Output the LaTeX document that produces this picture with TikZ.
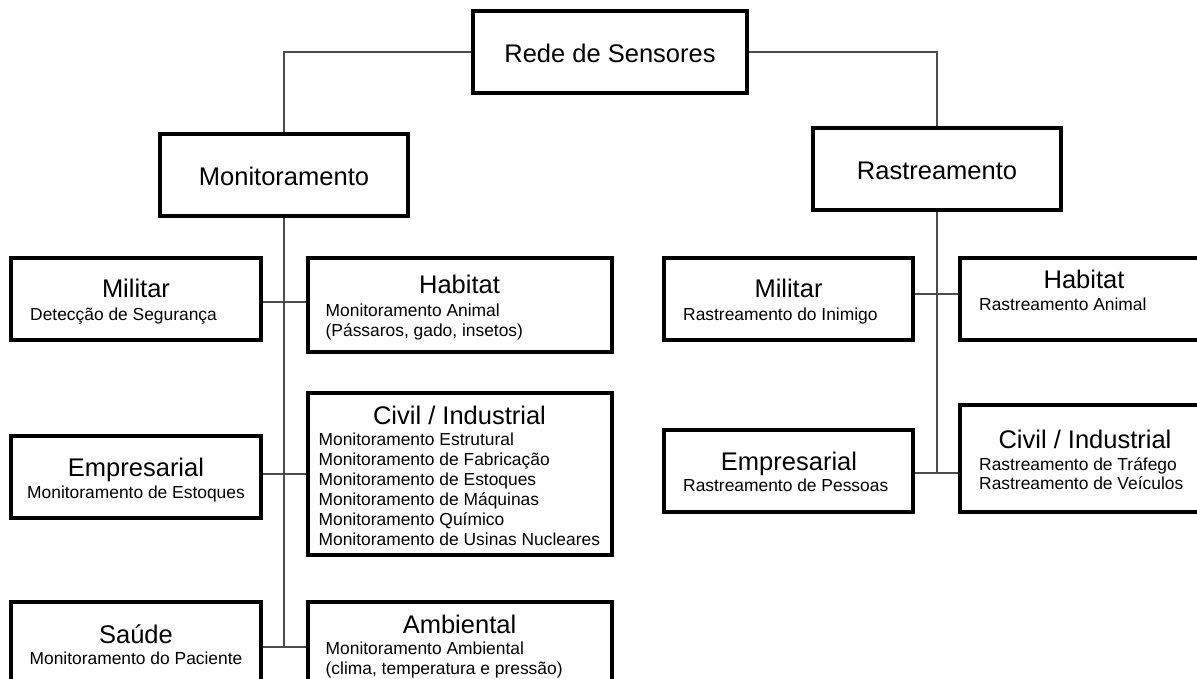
\documentclass[tikz,border=0pt]{standalone}
\usepackage{fontspec}
\setmainfont{Liberation Sans}
\tikzset{
  box/.style={draw, line width=2.8pt, rectangle, inner sep=0pt, fill=white},
  link/.style={draw=black!70, line width=1.1pt},
  ttl/.style={anchor=base, inner sep=0pt, font=\fontsize{25.5}{30}\selectfont},
  subl/.style={anchor=base west, inner sep=0pt, font=\fontsize{17.4}{20}\selectfont},
  subc/.style={anchor=base, inner sep=0pt, font=\fontsize{17.4}{20}\selectfont},
}
% box: name, centre x, centre y, width, height
\newcommand\mkbox[5]{\node[box, minimum width=#4pt, minimum height=#5pt] (#1) at (#2,#3) {};}
\begin{document}
\begin{tikzpicture}[x=1pt, y=-1pt]
\useasboundingbox (0,0) rectangle (1197,679);
\clip (0,0) rectangle (1197,679);
\fill[white] (0,0) rectangle (1197,679);

% junction points on the trunk lines
\coordinate (jl1) at (284,302);
\coordinate (jl2) at (284,474);
\coordinate (jl3) at (284,647);
\coordinate (jr1) at (937,294);
\coordinate (jr2) at (937,473);

% boxes
\mkbox{rede}{610}{52}{272}{80}
\mkbox{mon}{284}{175}{246}{80}
\mkbox{rast}{937}{169}{246}{80}

\mkbox{milL}{136}{299}{248}{80}
\mkbox{habL}{459.75}{305}{302.5}{92}
\mkbox{empL}{136}{477}{248}{80}
\mkbox{civL}{459.75}{474}{302.5}{160}
\mkbox{sauL}{136}{643}{248}{80}
\mkbox{ambL}{459.75}{647}{302.5}{88}

\mkbox{milR}{788.5}{299}{247}{80}
\mkbox{habR}{1084}{299}{246}{80}
\mkbox{empR}{788.5}{471}{247}{80}
\mkbox{civR}{1085}{458.5}{248}{105}

% connectors
\draw[link] (rede.west) -| (mon.north);
\draw[link] (rede.east) -| (rast.north);
\draw[link] (mon.south) -- (jl3);
\draw[link] (rast.south) -- (jr2);
\draw[link] (milL.east |- jl1) -- (habL.west |- jl1);
\draw[link] (empL.east |- jl2) -- (civL.west |- jl2);
\draw[link] (sauL.east |- jl3) -- (ambL.west |- jl3);
\draw[link] (milR.east |- jr1) -- (habR.west |- jr1);
\draw[link] (empR.east |- jr2) -- (civR.west |- jr2);

% redraw the borders over the connector ends
\foreach \n in {rede,mon,rast,milL,habL,empL,civL,sauL,ambL,milR,habR,empR,civR}
  \draw[line width=2.8pt] (\n.north west) rectangle (\n.south east);

% texts
\node[ttl] (tRede) at (610,62.5) {Rede de Sensores};
\node[ttl] (tMon) at (284,186) {Monitoramento};
\node[ttl] (tRast) at (937,180) {Rastreamento};

\node[ttl] (tMilL) at (136,297.7) {Militar};
\node[subl] (sMilL) at (30,320) {Detecção de Segurança};

\node[ttl] (tHabL) at (459.5,294) {Habitat};
\node[subl] (sHabL1) at (325.5,316.7) {Monitoramento Animal};
\node[subl] (sHabL2) at (325.5,336.7) {(Pássaros, gado, insetos)};

\node[ttl] (tCivL) at (459.5,424) {Civil / Industrial};
\node[subl] (sCivL1) at (318.4,445.7) {Monitoramento Estrutural};
\node[subl] (sCivL2) at (318.4,465.7) {Monitoramento de Fabricação};
\node[subl] (sCivL3) at (318.4,485.7) {Monitoramento de Estoques};
\node[subl] (sCivL4) at (318.4,505.7) {Monitoramento de Máquinas};
\node[subl] (sCivL5) at (318.4,525.7) {Monitoramento Químico};
\node[subl] (sCivL6) at (318.4,545.7) {Monitoramento de Usinas Nucleares};

\node[ttl] (tEmpL) at (136,476) {Empresarial};
\node[subc] (sEmpL) at (136,498.3) {Monitoramento de Estoques};

\node[ttl] (tSauL) at (136,643) {Saúde};
\node[subc] (sSauL) at (136,664) {Monitoramento do Paciente};

\node[ttl] (tAmbL) at (459.5,633) {Ambiental};
\node[subl] (sAmbL1) at (325.5,654) {Monitoramento Ambiental};
\node[subl] (sAmbL2) at (325.5,674) {(clima, temperatura e pressão)};

\node[ttl] (tMilR) at (788.5,298) {Militar};
\node[subl] (sMilR) at (683,320) {Rastreamento do Inimigo};

\node[ttl] (tHabR) at (1084,288) {Habitat};
\node[subl] (sHabR) at (979,310) {Rastreamento Animal};

\node[ttl] (tEmpR) at (789,470.7) {Empresarial};
\node[subl] (sEmpR) at (683,491.7) {Rastreamento de Pessoas};

\node[ttl] (tCivR) at (1085,448) {Civil / Industrial};
\node[subl] (sCivR1) at (979,470) {Rastreamento de Tráfego};
\node[subl] (sCivR2) at (979,489.3) {Rastreamento de Veículos};
\end{tikzpicture}
\end{document}
